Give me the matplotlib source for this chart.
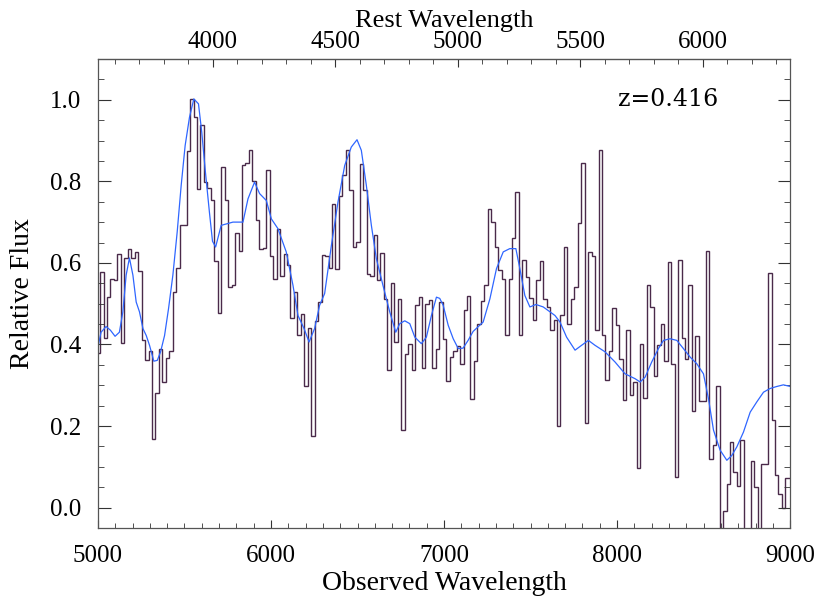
import numpy as np
import matplotlib.pyplot as plt
from matplotlib.ticker import MultipleLocator, FixedLocator

z = 0.416

# binned spectrum: 20 A bins starting at 4992.5 A
bin_start = 4992.5
bin_width = 20.0
flux = [0.38, 0.578, 0.416, 0.516, 0.561, 0.557, 0.621, 0.404, 0.613, 0.633,
        0.613, 0.627, 0.581, 0.412, 0.363, 0.383, 0.169, 0.282, 0.390, 0.308,
        0.367, 0.383, 0.529, 0.587, 0.694, 0.694, 0.874, 1.002, 0.957, 0.780,
        0.937, 0.798, 0.784, 0.753, 0.604, 0.477, 0.835, 0.755, 0.542, 0.545,
        0.673, 0.628, 0.841, 0.845, 0.877, 0.802, 0.706, 0.635, 0.637, 0.827,
        0.617, 0.561, 0.683, 0.567, 0.623, 0.594, 0.465, 0.529, 0.424, 0.475,
        0.297, 0.440, 0.176, 0.457, 0.504, 0.620, 0.618, 0.588, 0.744, 0.586,
        0.765, 0.815, 0.877, 0.778, 0.639, 0.651, 0.842, 0.779, 0.572, 0.568,
        0.669, 0.559, 0.624, 0.512, 0.338, 0.550, 0.406, 0.512, 0.190, 0.377,
        0.402, 0.337, 0.496, 0.516, 0.342, 0.500, 0.508, 0.343, 0.388, 0.504,
        0.413, 0.311, 0.369, 0.383, 0.397, 0.352, 0.484, 0.518, 0.267, 0.359,
        0.449, 0.507, 0.545, 0.733, 0.700, 0.639, 0.583, 0.561, 0.424, 0.561,
        0.662, 0.773, 0.424, 0.606, 0.565, 0.515, 0.459, 0.557, 0.604, 0.511,
        0.491, 0.435, 0.459, 0.199, 0.473, 0.639, 0.449, 0.512, 0.540, 0.698,
        0.845, 0.208, 0.627, 0.618, 0.435, 0.877, 0.424, 0.314, 0.383, 0.489,
        0.447, 0.365, 0.265, 0.435, 0.277, 0.308, 0.097, 0.401, 0.269, 0.547,
        0.493, 0.322, 0.398, 0.449, 0.359, 0.602, 0.351, 0.075, 0.606, 0.416,
        0.365, 0.546, 0.236, 0.421, 0.261, 0.261, 0.628, 0.120, 0.153, 0.298,
        -0.08, -0.009, 0.059, 0.160, 0.087, 0.053, 0.166, -0.08, -0.08, 0.114,
        0.051, -0.08, 0.108, 0.108, 0.574, 0.216, 0.079, 0.034, 0.0, 0.073,
        0.073]

# smooth template
model_wave = [5003, 5018, 5047, 5072, 5099, 5124, 5144, 5163, 5182, 5202,
              5221, 5240, 5260, 5279, 5298, 5323, 5343, 5362, 5385, 5408,
              5433, 5458, 5481, 5504, 5529, 5554, 5581, 5600, 5621, 5644,
              5662, 5680, 5712, 5780, 5838, 5867, 5905, 5934, 5973, 6002,
              6040, 6088, 6127, 6156, 6191, 6220, 6252, 6281, 6310, 6349,
              6387, 6426, 6464, 6497, 6522, 6551, 6580, 6609, 6647, 6686,
              6721, 6744, 6773, 6802, 6831, 6869, 6898, 6927, 6956, 6975,
              6995, 7024, 7053, 7082, 7110, 7139, 7168, 7226, 7265, 7303,
              7342, 7380, 7415, 7438, 7467, 7496, 7531, 7573, 7612, 7641,
              7670, 7708, 7757, 7795, 7834, 7872, 7930, 7988, 8046, 8104,
              8133, 8162, 8200, 8239, 8268, 8306, 8345, 8383, 8422, 8460,
              8499, 8528, 8557, 8595, 8634, 8663, 8692, 8730, 8769, 8807,
              8846, 8884, 8923, 8961, 9000]
model_flux = [0.40, 0.43, 0.444, 0.435, 0.42, 0.43, 0.48, 0.57, 0.612, 0.57,
              0.504, 0.48, 0.439, 0.422, 0.398, 0.359, 0.361, 0.382, 0.422, 0.488,
              0.57, 0.676, 0.79, 0.888, 0.957, 1.002, 0.99, 0.92, 0.823, 0.725,
              0.653, 0.639, 0.692, 0.70, 0.70, 0.757, 0.798, 0.77, 0.753, 0.708,
              0.684, 0.627, 0.545, 0.471, 0.439, 0.406, 0.439, 0.496, 0.525, 0.643,
              0.749, 0.839, 0.884, 0.902, 0.876, 0.79, 0.692, 0.61, 0.545, 0.48,
              0.43, 0.451, 0.458, 0.451, 0.418, 0.402, 0.418, 0.471, 0.516, 0.513,
              0.496, 0.447, 0.414, 0.39, 0.391, 0.41, 0.432, 0.455, 0.512, 0.586,
              0.627, 0.635, 0.635, 0.586, 0.52, 0.492, 0.498, 0.492, 0.48, 0.471,
              0.455, 0.418, 0.386, 0.398, 0.41, 0.398, 0.382, 0.357, 0.328, 0.316,
              0.308, 0.32, 0.357, 0.39, 0.41, 0.414, 0.41, 0.39, 0.369, 0.353,
              0.328, 0.267, 0.19, 0.141, 0.116, 0.128, 0.149, 0.185, 0.234, 0.259,
              0.283, 0.292, 0.297, 0.301, 0.297]

rest_ticks = [4000, 4500, 5000, 5500, 6000]

edges = bin_start + bin_width * np.arange(len(flux) + 1)

plt.rcParams['font.family'] = 'Liberation Serif'
plt.rcParams['font.size'] = 18

fig = plt.figure(figsize=(8.3, 6.08), dpi=100)
ax = fig.add_axes([0.118, 0.1316, 0.834, 0.7714])

ax.stairs(flux, edges, color='#4a2a4a', lw=1.0)
ax.plot(model_wave, model_flux, color='#2f66ff', lw=0.9)

ax.set_xlim(5000, 9000)
ax.set_ylim(-0.05, 1.1)

ax.xaxis.set_major_locator(MultipleLocator(1000))
ax.xaxis.set_minor_locator(MultipleLocator(100))
ax.yaxis.set_major_locator(MultipleLocator(0.2))
ax.yaxis.set_minor_locator(MultipleLocator(0.05))
ax.yaxis.set_major_formatter(plt.FormatStrFormatter('%.1f'))
ax.tick_params(which='both', direction='in', top=False, right=True, color='#333333')
ax.tick_params(which='major', length=9, pad=12)
ax.tick_params(which='minor', length=4.5)
ax.tick_params(axis='x', which='major', length=6, pad=12)
ax.tick_params(axis='x', which='minor', length=3.5)

for s in ax.spines.values():
    s.set_color('#555555')
    s.set_linewidth(0.9)

ax.set_xlabel('Observed Wavelength', fontsize=20, labelpad=3)
ax.set_ylabel('Relative Flux', fontsize=20, labelpad=11)

top = ax.secondary_xaxis('top', functions=(lambda x: x / (1 + z), lambda x: x * (1 + z)))
top.xaxis.set_major_locator(FixedLocator(rest_ticks))
top.xaxis.set_minor_locator(MultipleLocator(100))
top.tick_params(which='both', direction='in', color='#333333')
top.tick_params(which='major', length=6, pad=4, labelsize=18)
top.tick_params(which='minor', length=3.5)
top.set_xlabel('Rest Wavelength', fontsize=19, labelpad=3)

ax.text(0.896, 0.913, 'z=0.416', transform=ax.transAxes, ha='right', va='center',
        fontsize=17, family='DejaVu Serif')

fig.savefig('out.png', dpi=100)
